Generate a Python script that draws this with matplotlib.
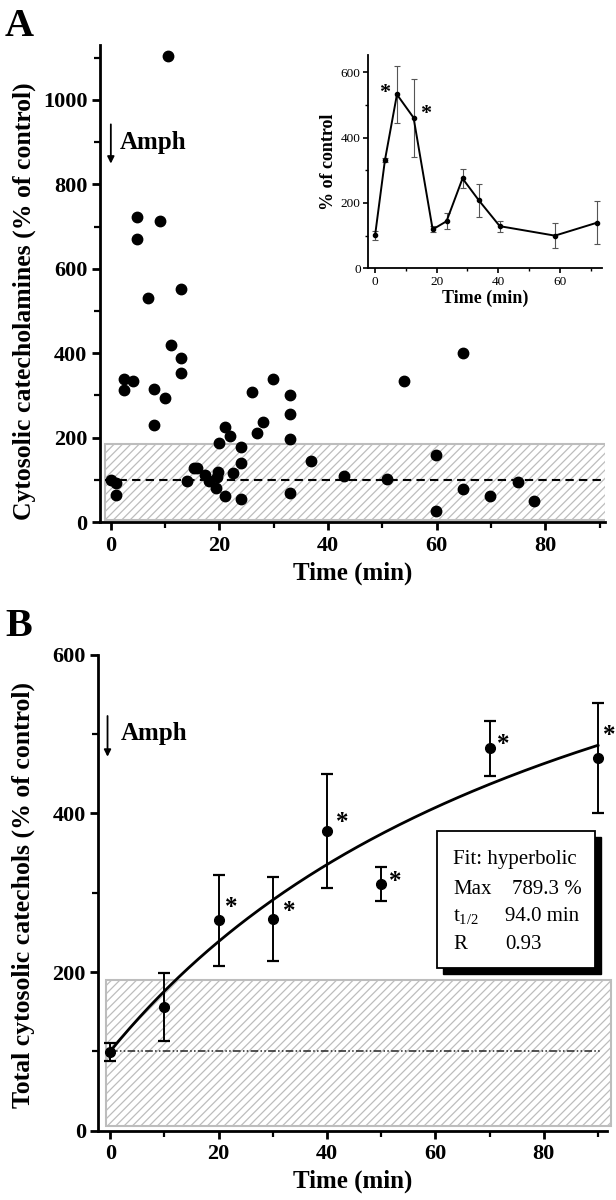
import matplotlib
matplotlib.use('Agg')
import matplotlib.pyplot as plt
import numpy as np
from matplotlib.patches import Rectangle
from matplotlib.ticker import MultipleLocator

# ---------------- data ----------------
# Panel A: individual cytosolic catecholamine measurements
a_time = [0, 0.9, 0.9, 2.4, 2.4, 4.0, 4.9, 4.9, 6.9, 7.9, 7.9, 9.0, 9.9, 10.5,
          11.0, 13.0, 13.0, 13.0, 14.1, 15.4, 15.9, 17.4, 18.1, 19.4, 19.6,
          19.7, 19.9, 21.0, 21.0, 21.9, 22.5, 24.0, 24.0, 24.0, 26.0, 26.9,
          28.0, 29.9, 33.0, 33.0, 33.0, 33.0, 36.9, 42.9, 50.9, 54.0, 59.9,
          59.9, 64.9, 64.9, 69.9, 74.9, 78.0]
a_value = [99, 93, 65, 339, 312, 334, 722, 671, 531, 316, 230, 713, 293, 1105,
           419, 551, 388, 353, 97, 129, 129, 111, 97, 80, 107,
           119, 186, 225, 62, 203, 116, 178, 140, 54, 308, 210,
           237, 338, 301, 255, 196, 68, 144, 110, 103, 335, 159,
           26, 401, 77, 62, 95, 50]
control_level = 100
a_control_band = (5, 185)

# Inset: binned means
inset_time = [0, 3.2, 7.1, 12.5, 18.7, 23.2, 28.4, 33.7, 40.5, 58.4, 72.2]
inset_mean = [101, 331, 532, 461, 119, 144, 275, 208, 129, 100, 140]
inset_err = [13, 7, 87, 119, 9, 25, 30, 50, 17, 38, 66]
inset_star_idx = [2, 3]

# Panel B: total cytosolic catechols
b_time = [0, 10, 20, 30, 40, 50, 70, 90]
b_mean = [99, 156, 265, 267, 378, 311, 482, 470]
b_err = [11, 43, 58, 53, 72, 22, 35, 69]
b_star_idx = [2, 3, 4, 5, 6, 7]
b_control_band = (6, 190)

# hyperbolic fit parameters
fit_max = 789.3
fit_thalf = 94.0
fit_r = 0.93

# ---------------- style ----------------
plt.rcParams['font.family'] = ['Liberation Serif', 'DejaVu Serif']
plt.rcParams['mathtext.fontset'] = 'custom'
plt.rcParams['mathtext.rm'] = 'Liberation Serif'
plt.rcParams['mathtext.it'] = 'Liberation Serif:italic'
plt.rcParams['mathtext.bf'] = 'Liberation Serif:bold'
plt.rcParams['hatch.color'] = '#b5b5b5'
plt.rcParams['hatch.linewidth'] = 0.9

fig = plt.figure(figsize=(6.16, 12), dpi=100)


def style_main(ax):
    for s in ['top', 'right']:
        ax.spines[s].set_visible(False)
    for s in ['left', 'bottom']:
        ax.spines[s].set_linewidth(2.0)
    ax.tick_params(which='major', direction='out', length=6, width=2.0,
                   labelsize=16, pad=3)
    ax.tick_params(which='minor', direction='out', length=4.5, width=1.6)
    ax.tick_params(axis='x', which='major', pad=4)
    for lab in ax.get_xticklabels() + ax.get_yticklabels():
        lab.set_fontweight('bold')


# ---------------- Panel A ----------------
axA = fig.add_axes([0.1623, 0.565, 0.8198, 0.3975])
axA.set_xlim(-2, 91)
axA.set_ylim(0, 1130)
axA.xaxis.set_major_locator(MultipleLocator(20))
axA.xaxis.set_minor_locator(MultipleLocator(10))
axA.yaxis.set_major_locator(MultipleLocator(200))
axA.yaxis.set_minor_locator(MultipleLocator(100))
style_main(axA)

axA.add_patch(Rectangle((-1.1, a_control_band[0]), 92.2,
                        a_control_band[1] - a_control_band[0],
                        facecolor='white', edgecolor='#bdbdbd', hatch='////',
                        lw=1.5, zorder=1))
axA.plot([-1, 91], [control_level, control_level], color='black', lw=1.5,
         dashes=(4, 2.5), zorder=2)
axA.plot(a_time, a_value, 'o', color='black', ms=7.5, zorder=3, clip_on=False)

axA.annotate('', xy=(0, 849), xytext=(0, 942),
             arrowprops=dict(arrowstyle='-|>', color='black', lw=1.3,
                             mutation_scale=10, shrinkA=0, shrinkB=0))
axA.text(1.7, 884, 'Amph', fontsize=18, fontweight='bold', va='baseline')

axA.set_xlabel('Time (min)', fontsize=18, fontweight='bold', labelpad=4)
fig.text(24 / 616, 1 - 301 / 1200, 'Cytosolic catecholamines (% of control)',
         rotation=90, ha='center', va='center', fontsize=18.5,
         fontweight='bold')
fig.text(5 / 616, 1 - 36 / 1200, 'A', fontsize=29, fontweight='bold',
         va='baseline', ha='left')

# ---------------- Inset ----------------
axI = fig.add_axes([0.5979, 0.7764, 0.3794, 0.1778])
axI.set_xlim(-2.2, 73.7)
axI.set_ylim(0, 653)
axI.xaxis.set_major_locator(MultipleLocator(20))
axI.xaxis.set_minor_locator(MultipleLocator(10))
axI.yaxis.set_major_locator(MultipleLocator(200))
axI.yaxis.set_minor_locator(MultipleLocator(100))
for s in ['top', 'right']:
    axI.spines[s].set_visible(False)
for s in ['left', 'bottom']:
    axI.spines[s].set_linewidth(1.3)
axI.tick_params(which='major', direction='out', length=3.5, width=1.2,
                labelsize=9.5, pad=2)
axI.tick_params(which='minor', direction='out', length=2.5, width=1.0)
axI.errorbar(inset_time, inset_mean, yerr=inset_err, fmt='none',
             ecolor='#555555', elinewidth=0.8, capsize=2.2, capthick=0.8,
             zorder=2)
axI.plot(inset_time, inset_mean, '-o', color='black', lw=1.4, ms=3,
         zorder=3)
inset_star_off = {2: (-9, 1), 3: (9, 3)}
for i in inset_star_idx:
    dx, dy = inset_star_off[i]
    axI.annotate('*', xy=(inset_time[i], inset_mean[i]), xytext=(dx, dy),
                 textcoords='offset points', fontsize=16, fontweight='bold',
                 ha='center', va='center')
axI.set_xlabel('Time (min)', fontsize=13, fontweight='bold', labelpad=1)
axI.set_ylabel('% of control', fontsize=13, fontweight='bold', labelpad=3)

# ---------------- Panel B ----------------
axB = fig.add_axes([0.1596, 0.0579, 0.8253, 0.3963])
axB.set_xlim(-2.2, 91.6)
axB.set_ylim(0, 600)
axB.xaxis.set_major_locator(MultipleLocator(20))
axB.xaxis.set_minor_locator(MultipleLocator(10))
axB.yaxis.set_major_locator(MultipleLocator(200))
axB.yaxis.set_minor_locator(MultipleLocator(100))
style_main(axB)

axB.add_patch(Rectangle((-0.74, b_control_band[0]), 93.1,
                        b_control_band[1] - b_control_band[0],
                        facecolor='white', edgecolor='#bdbdbd', hatch='////',
                        lw=1.5, zorder=1, clip_on=False))
axB.plot([0, 90.4], [control_level, control_level], color='#222222', lw=1.1,
         dashes=(5, 1.5, 1, 1.5, 1, 1.5), zorder=2)

t_fit = np.linspace(0, max(b_time), 200)
y_fit = control_level + fit_max * t_fit / (fit_thalf + t_fit)
axB.plot(t_fit, y_fit, color='black', lw=2.0, zorder=3)

axB.errorbar(b_time, b_mean, yerr=b_err, fmt='o', color='black', ms=7,
             elinewidth=1.4, capsize=4.5, capthick=1.6, zorder=4,
             clip_on=False)
star_off = {2: (9, 9), 3: (12, 5), 4: (11, 6), 5: (10, 2), 6: (10, 3),
            7: (8, 16)}
for i in b_star_idx:
    dx, dy = star_off[i]
    axB.annotate('*', xy=(b_time[i], b_mean[i]), xytext=(dx, dy),
                 textcoords='offset points', fontsize=18, fontweight='bold',
                 ha='center', va='center', annotation_clip=False)

axB.annotate('', xy=(-0.5, 471.6), xytext=(-0.5, 523),
             arrowprops=dict(arrowstyle='-|>', color='black', lw=1.3,
                             mutation_scale=10, shrinkA=0, shrinkB=0))
axB.text(2.0, 492.7, 'Amph', fontsize=18, fontweight='bold', va='baseline')

# fit box with shadow
box_x0, box_x1, box_y0, box_y1 = 60.3, 89.4, 205, 378
sh_dx, sh_dy = 1.15, 7.6
axB.add_patch(Rectangle((box_x0 + sh_dx, box_y0 - sh_dy), box_x1 - box_x0,
                        box_y1 - box_y0, facecolor='black', edgecolor='black',
                        zorder=5))
axB.add_patch(Rectangle((box_x0, box_y0), box_x1 - box_x0, box_y1 - box_y0,
                        facecolor='white', edgecolor='black', lw=1.3,
                        zorder=6))
tx = 63.3
axB.text(tx, 335.7, 'Fit: hyperbolic', fontsize=15, va='baseline', zorder=7)
axB.text(tx, 299, 'Max', fontsize=15, va='baseline', zorder=7)
axB.text(74.1, 299, f'{fit_max:.1f} %', fontsize=15, va='baseline', zorder=7)
axB.text(tx, 264.4, r'$\mathregular{t_{1/2}}$', fontsize=15, va='baseline',
         zorder=7)
axB.text(72.9, 264.4, f'{fit_thalf:.1f} min', fontsize=15, va='baseline',
         zorder=7)
axB.text(tx, 228.4, 'R', fontsize=15, va='baseline', zorder=7)
axB.text(72.9, 228.4, f'{fit_r:.2f}', fontsize=15, va='baseline', zorder=7)

axB.set_xlabel('Time (min)', fontsize=18, fontweight='bold', labelpad=4)
fig.text(23 / 616, 1 - 895 / 1200, 'Total cytosolic catechols (% of control)',
         rotation=90, ha='center', va='center', fontsize=18.5,
         fontweight='bold')
fig.text(5 / 616, 1 - 636 / 1200, 'B', fontsize=29, fontweight='bold',
         va='baseline', ha='left')

fig.savefig('out.png', dpi=100, facecolor='white')
